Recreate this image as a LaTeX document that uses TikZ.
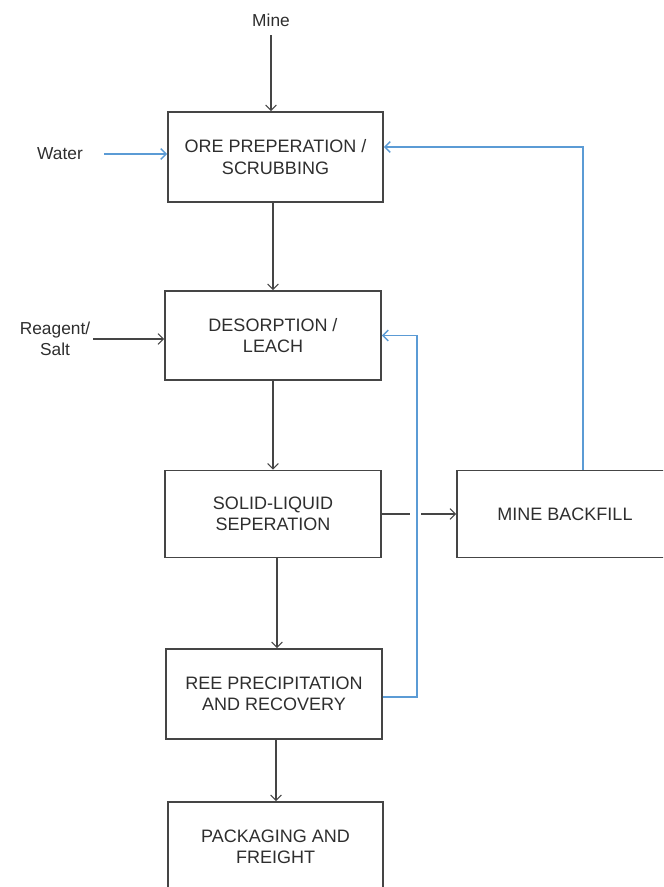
\documentclass[tikz,border=0pt]{standalone}
\usepackage{fontspec}
\setmainfont{Liberation Sans}
\usetikzlibrary{arrows.meta}
\definecolor{edgegray}{HTML}{454545}
\definecolor{flowblue}{HTML}{5B9BD5}
\definecolor{txtgray}{HTML}{2E2E2E}
\begin{document}
\begin{tikzpicture}[x=0.75pt,y=-0.75pt,
  procbox/.style={draw=edgegray,line width=1.3pt,fill=white,text=txtgray,align=center,
    font=\fontsize{13.5}{16}\selectfont,minimum width=162pt,minimum height=67pt,inner sep=0pt},
  inlabel/.style={text=txtgray,align=center,font=\fontsize{13}{15.5}\selectfont,inner sep=0pt},
  flow/.style={draw=edgegray,line width=0.85pt,-{Straight Barb[length=4pt,width=8pt]}},
  flowplain/.style={draw=edgegray,line width=0.85pt},
  recyc/.style={draw=flowblue,line width=1.1pt,-{Straight Barb[length=4pt,width=8pt]}}
]
\useasboundingbox (0,0) rectangle (663,887);
\clip (0,0) rectangle (663,887);

% process boxes
\node[procbox,minimum width=161.25pt,minimum height=67.5pt] (ore) at (275.5,157) {ORE PREPERATION /\\SCRUBBING};
\node[procbox,minimum width=162pt,minimum height=66.75pt] (des) at (273,335.5) {DESORPTION /\\LEACH};
\node[procbox,minimum width=162pt,minimum height=65.25pt] (sls) at (273,514) {SOLID-LIQUID\\SEPERATION};
\node[procbox,minimum width=162pt,minimum height=67.5pt] (ree) at (274,694) {REE PRECIPITATION\\AND RECOVERY};
\node[procbox,minimum width=161.25pt,minimum height=67.5pt] (pack) at (275.5,847) {PACKAGING AND\\FREIGHT};
\node[procbox,minimum width=162pt,minimum height=65.25pt] (mb) at (565,514) {MINE BACKFILL};

% inputs
\node[inlabel] (mine) at (271,20) {Mine};
\node[inlabel] (water) at (60,154) {Water};
\node[inlabel] (reag) at (55,339) {Reagent/\\Salt};

% main flow
\draw[flow,shorten <=6.5pt] (mine.south) -- (mine.south |- ore.north);
\draw[flow] (ore.south -| des.north) -- (des.north);
\draw[flow] (des.south) -- (sls.north);
\draw[flow] ([xshift=3pt]sls.south) -- ([xshift=3pt]sls.south |- ree.north);
\draw[flow] ([xshift=0.4pt]pack.north |- ree.south) -- ([xshift=0.4pt]pack.north);

% side inputs
\draw[flow,shorten <=2pt] (reag.east) -- (reag.east -| des.west);
\draw[flow,draw=flowblue,line width=1.1pt,shorten <=16pt] (water.east) -- (water.east -| ore.west);

% to mine backfill, with a gap at the blue crossing
\coordinate (gapL) at (410,514);
\coordinate (gapR) at (421,514);
\draw[flowplain] (sls.east) -- (gapL);
\draw[flow] (gapR) -- (mb.west);

% recycle lines
\draw[recyc] ([xshift=13.5pt]mb.north) |- ([yshift=7.5pt]ore.east);
\draw[recyc] ([yshift=-2.25pt]ree.east) -- ++(34,0) |- (des.east);
\end{tikzpicture}
\end{document}
